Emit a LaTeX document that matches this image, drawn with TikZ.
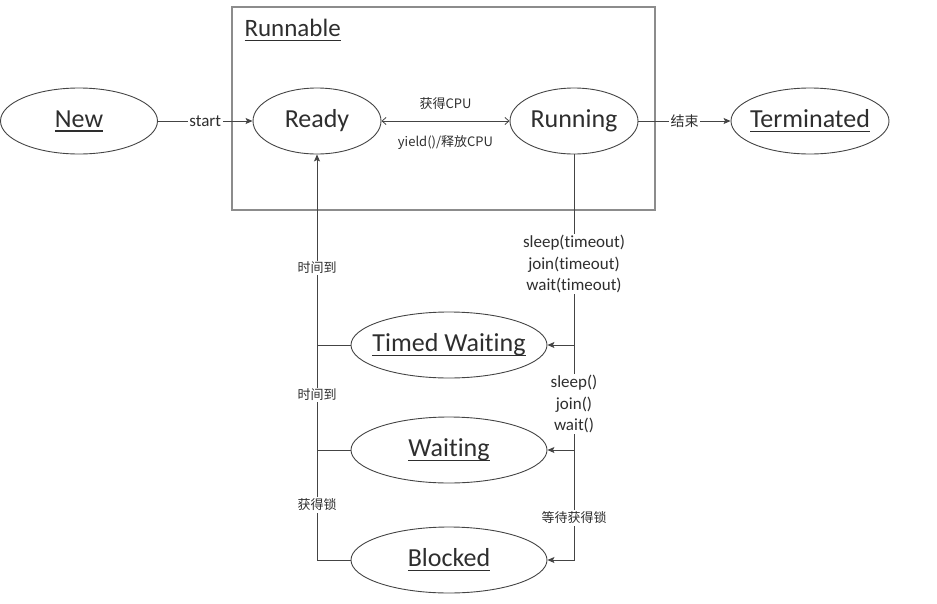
\documentclass[tikz,border=0pt]{standalone}
\usepackage{fontspec}
\setmainfont[Ligatures=CommonOff]{Carlito}
\newfontfamily\cjk{Noto Sans CJK SC}
\usetikzlibrary{shapes.geometric,arrows.meta}
\definecolor{ink}{HTML}{2E2E2E}
\definecolor{edge}{HTML}{444444}
\definecolor{frame}{HTML}{8C8C8C}
% underline at a fixed distance below the baseline
\newcommand\ulin[1]{\setbox0\hbox{#1}\rlap{\rule[-4.5pt]{\wd0}{1.3pt}}\box0}
% state label, lowered slightly inside its ellipse
\newcommand\stxt[1]{\makebox[0pt]{\raisebox{-2pt}{#1}}}
\begin{document}
\begin{tikzpicture}[x=1pt,y=-1pt,
  state/.style={ellipse, draw=edge, line width=0.9pt, inner sep=0pt,
    minimum height=66pt, text=ink, font=\fontsize{26}{28}\selectfont},
  wire/.style={draw=edge, line width=0.8pt},
  tip/.style={-{Stealth[length=7pt,width=6pt,inset=1.5pt]}},
  lbl/.style={fill=white, inner sep=1.5pt, text=ink, align=center,
    font=\fontsize{17}{21.5}\selectfont},
  cn/.style={fill=white, inner sep=1.5pt, text=ink,
    font=\cjk\fontsize{13}{16}\selectfont}]
\useasboundingbox (0,0) rectangle (937,603);

% Runnable group frame
\node[draw=frame, line width=1.2pt, minimum width=423pt, minimum height=203pt,
  inner sep=0pt] (runnable) at (443.5,108.5) {};
\node[text=ink, font=\fontsize{25}{28}\selectfont, anchor=west] (runtitle)
  at (241,30) {\ulin{Runnable}};

% states
\node[state, minimum width=157pt] (new) at (79,121) {\stxt{\ulin{New}}};
\node[state, minimum width=128pt] (ready) at (317,121) {\stxt{Ready}};
\node[state, minimum width=128pt] (running) at (574,121) {\stxt{Running}};
\node[state, minimum width=158pt] (term) at (810,121) {\stxt{\ulin{Terminated}}};
\node[state, minimum width=196pt] (timed) at (449,345) {\stxt{\ulin{Timed Waiting}}};
\node[state, minimum width=196pt] (waiting) at (449,450) {\stxt{\ulin{Waiting}}};
\node[state, minimum width=196pt] (blocked) at (449,560) {\stxt{\ulin{Blocked}}};

% top row
\draw[wire, tip] (new) -- node[lbl] (startlbl) {start} (ready);
\draw[wire, tip] (running) -- node[cn, font=\cjk\fontsize{14}{16}\selectfont] (endlbl) {结束} (term);
\draw[wire, {Straight Barb[length=4pt,width=7pt]}-{Straight Barb[length=4pt,width=7pt]}]
  (ready) -- node[cn, fill=none, yshift=17pt] (getcpu) {获得CPU}
             node[cn, fill=none, yshift=-22pt] (yieldcpu) {yield()/释放CPU} (running);

% right trunk: Running down to the waiting states
\coordinate (rb) at (running.south |- blocked.east);
\coordinate (rt) at (running.south |- timed.east);
\coordinate (rw) at (running.south |- waiting.east);
\draw[wire, tip] (running.south) -- (rb) -- (blocked.east);
\draw[wire, tip] (rt) -- (timed.east);
\draw[wire, tip] (rw) -- (waiting.east);
\node[lbl] (timeoutcalls) at (574,264) {sleep(timeout)\\join(timeout)\\wait(timeout)};
\node[lbl] (plaincalls) at (574,404) {sleep()\\join()\\wait()};
\node[cn] (waitlock) at (574,518) {等待获得锁};

% left trunk: back up to Ready
\coordinate (lb) at (ready.south |- blocked.west);
\coordinate (lt) at (ready.south |- timed.west);
\coordinate (lw) at (ready.south |- waiting.west);
\draw[wire, tip] (blocked.west) -- (lb) -- (ready.south);
\draw[wire] (timed.west) -- (lt);
\draw[wire] (waiting.west) -- (lw);
\node[cn] (timeup1) at (317,268) {时间到};
\node[cn] (timeup2) at (317,395) {时间到};
\node[cn] (gotlock) at (317,505) {获得锁};
\end{tikzpicture}
\end{document}
